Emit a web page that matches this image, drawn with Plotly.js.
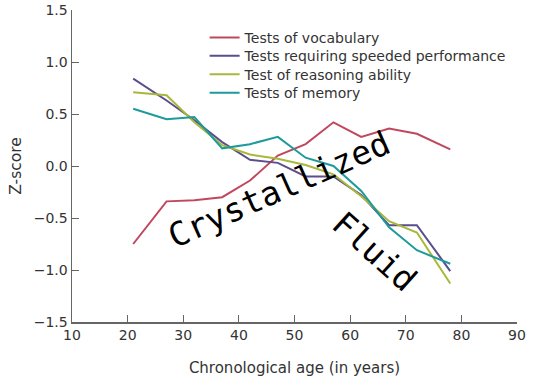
<!DOCTYPE html>
<html>
<head>
<meta charset="utf-8">
<script src="https://cdn.plot.ly/plotly-3.0.1.min.js"></script>
<style>
  html, body { margin: 0; padding: 0; background: #fff; }
  #chart { width: 540px; height: 380px; }
</style>
</head>
<body>
<div id="chart"></div>
<script>
// Data
const ages = [21, 27, 32, 37, 42, 47, 52, 57, 62, 67, 72, 78];
const vocabulary = [-0.75, -0.34, -0.33, -0.30, -0.14, 0.10, 0.21, 0.42, 0.28, 0.36, 0.31, 0.16];
const speeded    = [0.84, 0.63, 0.44, 0.23, 0.06, 0.03, -0.10, -0.10, -0.28, -0.57, -0.57, -1.01];
const reasoning  = [0.71, 0.68, 0.42, 0.20, 0.11, 0.07, 0.01, -0.08, -0.29, -0.53, -0.64, -1.13];
const memory     = [0.55, 0.45, 0.47, 0.17, 0.21, 0.28, 0.08, 0.00, -0.24, -0.59, -0.81, -0.94];
const seriesNames = ["Tests of vocabulary", "Tests requiring speeded performance", "Test of reasoning ability", "Tests of memory"];
const seriesColors = ["#c0485e", "#5a4e8c", "#a9b83a", "#1e9a9a"];
const xTicks = [10, 20, 30, 40, 50, 60, 70, 80, 90];
const yTicks = [-1.5, -1.0, -0.5, 0.0, 0.5, 1.0, 1.5];
const yTickLabels = ["\u22121.5", "\u22121.0", "\u22120.5", "0.0", "0.5", "1.0", "1.5"];

const fontFam = "DejaVu Sans, sans-serif";
const textColor = "#333";
const axisColor = "#666";

const allSeries = [vocabulary, speeded, reasoning, memory];
const legendIds = ["legend", "legend2", "legend3", "legend4"];
const legendY = [0.962, 0.903, 0.844, 0.785];

const traces = allSeries.map((ys, i) => ({
  x: ages, y: ys, type: "scatter", mode: "lines",
  name: seriesNames[i],
  legend: legendIds[i],
  line: { color: seriesColors[i], width: 2 }
}));

const layout = {
  width: 540, height: 380,
  margin: { l: 72, r: 23, t: 10, b: 58 },
  paper_bgcolor: "#fff", plot_bgcolor: "#fff",
  font: { family: fontFam, size: 14, color: textColor },
  showlegend: true,
  xaxis: {
    range: [10, 90], tickvals: xTicks, ticktext: xTicks.map(String),
    showgrid: false, zeroline: false,
    showline: true, linecolor: axisColor, linewidth: 1.5,
    ticks: "inside", ticklen: 7, tickcolor: axisColor, tickwidth: 1,
    tickfont: { family: fontFam, size: 14, color: textColor },
    title: { text: "Chronological age (in years)", font: { family: fontFam, size: 15, color: textColor }, standoff: 20 }
  },
  yaxis: {
    range: [-1.5, 1.5], tickvals: yTicks, ticktext: yTickLabels,
    showgrid: false, zeroline: false,
    showline: true, linecolor: axisColor, linewidth: 1.5,
    ticks: "inside", ticklen: 7, tickcolor: axisColor, tickwidth: 1,
    tickfont: { family: fontFam, size: 14, color: textColor },
    title: { text: "Z-score", font: { family: fontFam, size: 15.5, color: textColor }, standoff: 8 }
  },
  annotations: [
    { text: "Crystallized", x: 47.2, y: -0.23, xref: "x", yref: "y",
      showarrow: false, textangle: -24, xanchor: "center", yanchor: "middle",
      font: { family: "DejaVu Sans Mono, monospace", size: 33, color: "#000" } },
    { text: "Fluid", x: 64.4, y: -0.82, xref: "x", yref: "y",
      showarrow: false, textangle: 42, xanchor: "center", yanchor: "middle",
      font: { family: "DejaVu Sans Mono, monospace", size: 33, color: "#000" } }
  ]
};

legendIds.forEach((id, i) => {
  layout[id] = {
    x: 0.298, y: legendY[i], xanchor: "left", yanchor: "top",
    bgcolor: "rgba(0,0,0,0)", borderwidth: 0,
    font: { family: fontFam, size: 14, color: textColor }
  };
});

Plotly.newPlot("chart", traces, layout, { displayModeBar: false, staticPlot: true });
</script>
</body>
</html>
